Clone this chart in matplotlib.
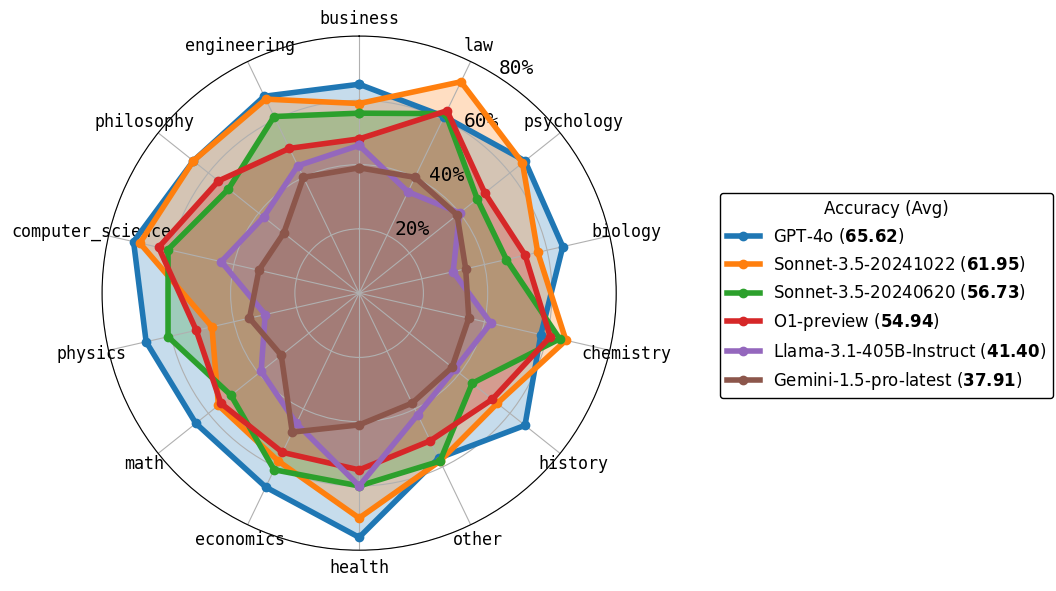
import numpy as np
import matplotlib
matplotlib.use('Agg')
import matplotlib.pyplot as plt

categories = ['business', 'law', 'psychology', 'biology', 'chemistry', 'history', 'other',
              'health', 'economics', 'math', 'physics', 'computer_science', 'philosophy',
              'engineering']

models = ['GPT-4o', 'Sonnet-3.5-20241022', 'Sonnet-3.5-20240620', 'O1-preview',
          'Llama-3.1-405B-Instruct', 'Gemini-1.5-pro-latest']
averages = ['65.62', '61.95', '56.73', '54.94', '41.40', '37.91']

gpt4o = [65, 61, 66, 65, 58, 66, 57, 76, 67, 65, 68, 72, 66, 68]
sonnet_1022 = [59, 73, 65, 57, 66, 55, 58, 70, 58, 56, 47, 70, 66, 67]
sonnet_0620 = [56, 62, 47, 47, 64, 45, 58, 60, 61, 51, 61, 61, 52, 61]
o1_preview = [48, 63, 50, 53, 61, 53, 51, 55, 55, 55, 52, 64, 56, 50]
llama = [46, 35, 40, 30, 42, 38, 42, 60, 45, 39, 30, 44, 38, 44]
gemini = [39, 40, 39, 34, 35, 37, 38, 41, 48, 31, 35, 32, 30, 40]
series = [gpt4o, sonnet_1022, sonnet_0620, o1_preview, llama, gemini]

colors = ['#1f77b4', '#ff7f0e', '#2ca02c', '#d62728', '#9467bd', '#8c564b']

angles = np.linspace(0, 2 * np.pi, len(categories), endpoint=False)
closed = np.append(angles, angles[0])

fig = plt.figure(figsize=(10.56, 5.91), dpi=100)
ax = fig.add_axes([0.0966, 0.069, 0.487, 0.87], projection='polar')
ax.set_theta_offset(np.pi / 2)
ax.set_theta_direction(-1)

for name, avg, vals, color in zip(models, averages, series, colors):
    v = np.append(vals, vals[0])
    ax.plot(closed, v, color=color, linewidth=4, marker='o', markersize=6,
            label=f'{name} ($\\bf{{{avg}}}$)')
    ax.fill(closed, v, color=color, alpha=0.25)

ax.set_ylim(0, 80)
ax.set_yticks([20, 40, 60, 80])
ax.set_yticklabels(['20%', '40%', '60%', '80%'], family='DejaVu Sans Mono', fontsize=14)
ax.set_rlabel_position(33)
ax.set_xticks(angles)
ax.set_xticklabels(categories, family='DejaVu Sans Mono', fontsize=12)
ax.tick_params(axis='x', pad=2)
ax.grid(True, color='#b0b0b0', linewidth=0.8)

leg = ax.legend(title='Accuracy (Avg)', loc='center left', bbox_to_anchor=(0.674, 0.5),
                bbox_transform=fig.transFigure, fontsize=12, title_fontsize=12,
                framealpha=1, edgecolor='black', fancybox=True)

fig.savefig('out.png')
